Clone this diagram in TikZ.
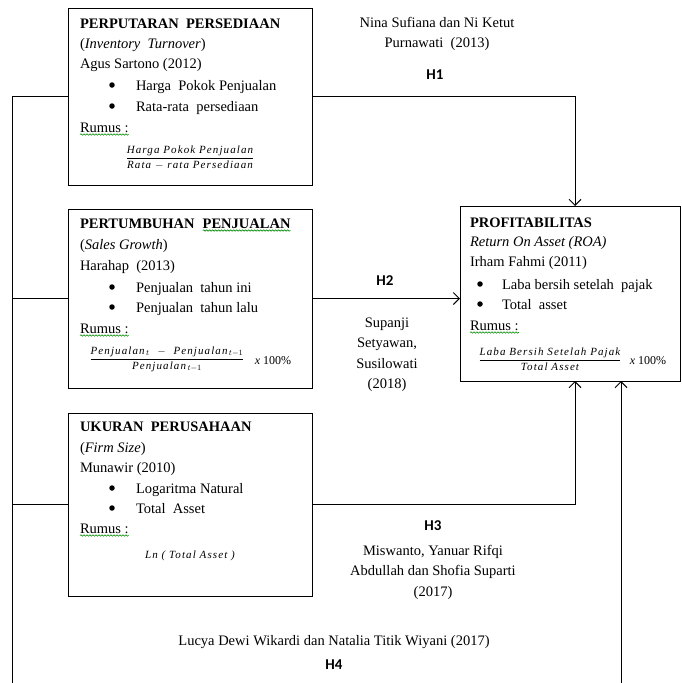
\documentclass[tikz,border=0pt]{standalone}
\usepackage{fontspec}
\setmainfont{Liberation Serif}
\newfontfamily\hfont{Carlito}
\newfontfamily\ffont{Liberation Serif}[LetterSpace=10]
\usetikzlibrary{arrows.meta,decorations.pathmorphing}
\begin{document}
\begin{tikzpicture}[x=1pt,y=-1pt, line width=1pt,
 every node/.style={inner sep=0pt, outer sep=0pt},
 box/.style={draw, rectangle, anchor=north west},
 txt/.style={anchor=base west, font=\fontsize{14.5}{17}\selectfont},
 ttl/.style={anchor=base west, font=\fontsize{14.5}{17}\selectfont\bfseries},
 itx/.style={anchor=base west, font=\fontsize{14.5}{17}\selectfont\itshape},
 ctr/.style={anchor=base, font=\fontsize{14.5}{17}\selectfont},
 hyp/.style={anchor=base, font=\fontsize{15}{17}\selectfont\hfont\bfseries},
 bul/.style={circle, fill, minimum size=5.5pt},
 frm/.style={font=\fontsize{11}{13}\selectfont\ffont\itshape},
 pct/.style={anchor=base, font=\fontsize{12}{14}\selectfont},
 arr/.style={-{Straight Barb[length=6pt,width=12pt]}},
 wavy/.style={draw=green!55!black, line width=0.6pt, decorate,
   decoration={snake, segment length=3pt, amplitude=0.7pt}}
]
\useasboundingbox (0,0) rectangle (682,683);

% ---------- boxes ----------
\node[box, minimum width=244, minimum height=177] (b1) at (68,8) {};
\node[box, minimum width=244, minimum height=179] (b2) at (68,209) {};
\node[box, minimum width=244, minimum height=183] (b3) at (68,413) {};
\node[box, minimum width=220, minimum height=175] (p) at (460,206) {};

% ---------- box 1 ----------
\node[ttl] (t1) at (80,28) {PERPUTARAN\ \ PERSEDIAAN};
\node[itx] (s1) at (80,48) {\upshape(\itshape Inventory\ \ Turnover\upshape)};
\node[txt] (a1) at (80,68) {Agus Sartono (2012)};
\node[bul] (d11) at (112,85) {};
\node[txt] (i11) at (136,90) {Harga\ \ Pokok Penjualan};
\node[bul] (d12) at (112,106) {};
\node[txt] (i12) at (136,111) {Rata-rata\ \ persediaan};
\node[txt] (r1) at (80,132) {Rumus :};
\node[frm] (f1) at (190,158) {$\displaystyle\frac{\hbox{Harga Pokok Penjualan}}{\hbox{Rata $-$ rata Persediaan}}$};

% ---------- box 2 ----------
\node[ttl] (t2a) at (80,228) {PERTUMBUHAN};
\node[ttl] (t2b) at ([xshift=8pt]t2a.base east) {PENJUALAN};
\node[itx] (s2) at (80,249) {\upshape(\itshape Sales\ Growth\upshape)};
\node[txt] (a2) at (80,270) {Harahap\ \ (2013)};
\node[bul] (d21) at (112,287) {};
\node[txt] (i21) at (136,292) {Penjualan\ \ tahun ini};
\node[bul] (d22) at (112,307) {};
\node[txt] (i22) at (136,312) {Penjualan\ \ tahun lalu};
\node[txt] (r2) at (80,333) {Rumus :};
\node[frm] (f2) at (167,359) {$\displaystyle\frac{\hbox{Penjualan$_{\,t}$ \ $-$ \ Penjualan$_{\,t-1}$}}{\hbox{Penjualan$_{\,t-1}$}}$};
\node[pct] (x2) at (273,364) {\itshape x\upshape\ 100\%};

% ---------- box 3 ----------
\node[ttl] (t3) at (80,431) {UKURAN\ \ PERUSAHAAN};
\node[itx] (s3) at (80,452) {\upshape(\itshape Firm\ Size\upshape)};
\node[txt] (a3) at (80,472) {Munawir\ (2010)};
\node[bul] (d31) at (112,488) {};
\node[txt] (i31) at (136,493) {Logaritma\ Natural};
\node[bul] (d32) at (112,508) {};
\node[txt] (i32) at (136,513) {Total\ \ Asset};
\node[txt] (r3) at (80,533) {Rumus :};
\node[frm] (f3) at (190,556) {Ln ( Total Asset )};

% ---------- profitabilitas ----------
\node[ttl] (t4) at (470,227) {PROFITABILITAS};
\node[itx] (s4) at (470,246) {Return On Asset (ROA)};
\node[txt] (a4) at (470,266) {Irham Fahmi (2011)};
\node[bul] (d41) at (480,284) {};
\node[txt] (i41) at (502,289) {Laba bersih setelah\ \ pajak};
\node[bul] (d42) at (480,304) {};
\node[txt] (i42) at (502,309) {Total\ \ asset};
\node[txt] (r4) at (470,330) {Rumus :};
\node[frm] (f4) at (550,359) {$\displaystyle\frac{\hbox{Laba Bersih Setelah\ Pajak}}{\hbox{Total Asset}}$};
\node[pct] (x4) at (648,364) {\itshape x\upshape\ 100\%};

% ---------- spelling marks ----------
\draw[wavy] ([yshift=-2.5pt]r1.base west) -- ([yshift=-2.5pt]r1.base east);
\draw[wavy] ([yshift=-2.5pt]r2.base west) -- ([yshift=-2.5pt]r2.base east);
\draw[wavy] ([yshift=-2.5pt]r3.base west) -- ([yshift=-2.5pt]r3.base east);
\draw[wavy] ([yshift=-2.5pt]r4.base west) -- ([yshift=-2.5pt]r4.base east);
\draw[wavy] ([yshift=-2.5pt]t2b.base west) -- ([yshift=-2.5pt]t2b.base east);

% ---------- labels ----------
\node[ctr] (n1a) at (437,27) {Nina Sufiana dan Ni Ketut};
\node[ctr] (n1b) at (437,47) {Purnawati\ \ (2013)};
\node[hyp] (h1) at (435,79) {H1};
\node[hyp] (h2) at (385,285) {H2};
\node[ctr] (n2a) at (387,327) {Supanji};
\node[ctr] (n2b) at (387,347) {Setyawan,};
\node[ctr] (n2c) at (387,368) {Susilowati};
\node[ctr] (n2d) at (387,388) {(2018)};
\node[hyp] (h3) at (433,530) {H3};
\node[ctr] (n3a) at (433,555) {Miswanto,\ Yanuar\ Rifqi};
\node[ctr] (n3b) at (433,575) {Abdullah\ dan\ Shofia\ Suparti};
\node[ctr] (n3c) at (433,596) {(2017)};
\node[ctr] (n4) at (334,645) {Lucya Dewi Wikardi dan Natalia\ Titik Wiyani (2017)};
\node[hyp] (h4) at (334,669) {H4};

% ---------- connectors ----------
\coordinate (ax) at (575,0);
\coordinate (lb) at (12,683);
\coordinate (rb) at (621,683);
\draw[arr] (b1.east) -| (ax |- p.north);
\draw[arr] (b2.east) -- (b2.east -| p.west);
\draw[arr] (b3.east) -| (ax |- p.south);
\draw[arr] (rb) -- (rb |- p.south);
\draw (b1.west) -| (lb);
\draw (b2.west) -- (b2.west -| lb);
\draw (b3.west) -- (b3.west -| lb);
\end{tikzpicture}
\end{document}
